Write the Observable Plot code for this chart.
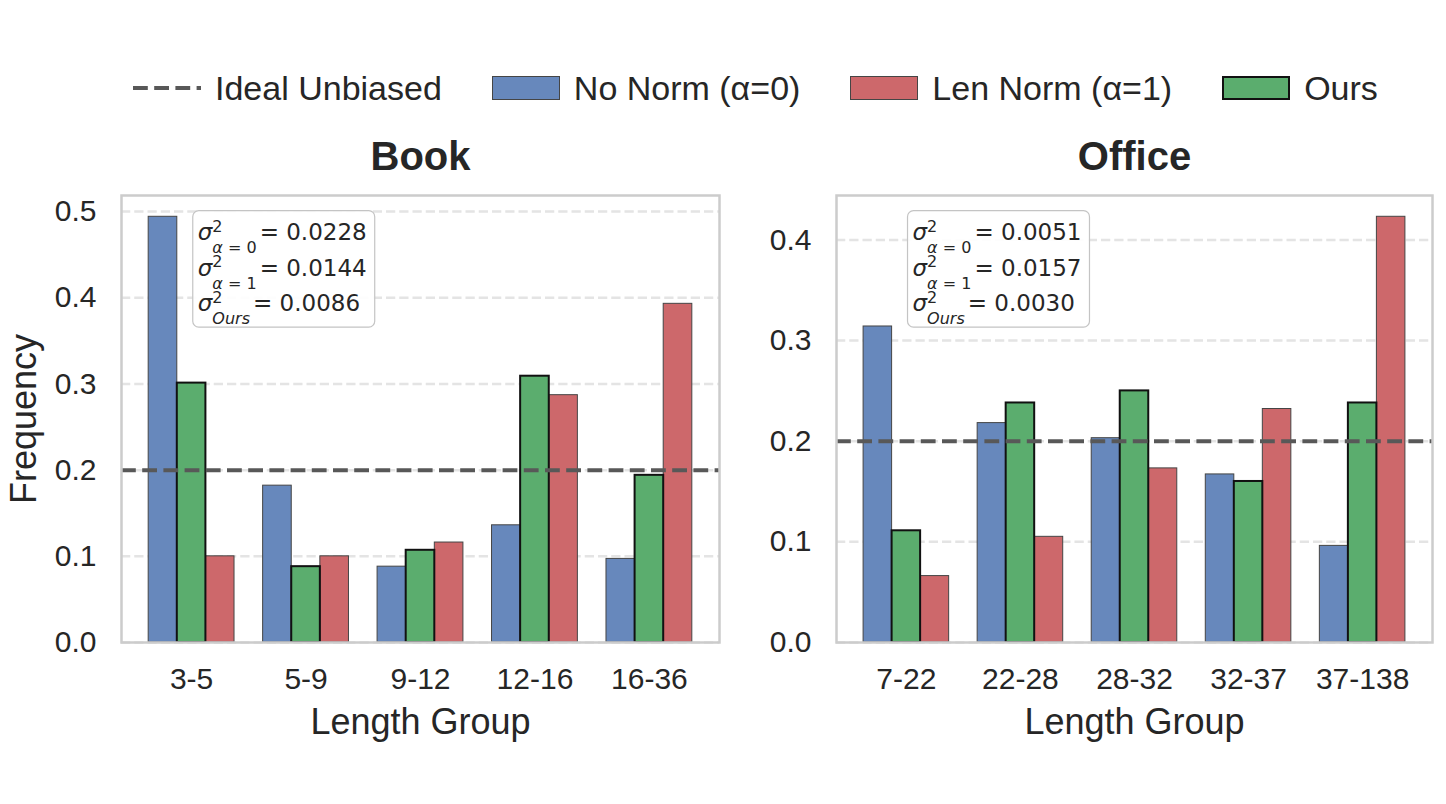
<!DOCTYPE html>
<html>
<head>
<meta charset="utf-8">
<script src="https://cdn.jsdelivr.net/npm/d3@7"></script>
<script src="https://cdn.jsdelivr.net/npm/@observablehq/plot@0.6"></script>
<style>
  html, body { margin: 0; background: #fff; }
  #figure { position: relative; width: 1446px; height: 804px; overflow: hidden;
            font-family: "Liberation Sans", Arial, sans-serif; color: #262626; }
  #figure svg.panel { position: absolute; top: 0; }
  #legend { position: absolute; left: 133px; top: 68px; height: 40px; display: flex;
            align-items: center; font-size: 34px; white-space: nowrap; z-index: 2; }
  .item { display: flex; align-items: center; }
  .item + .item { margin-left: 50px; }
  .key { width: 68px; height: 24px; box-sizing: border-box; margin-right: 14px; flex: none; }
</style>
</head>
<body>
<div id="figure"><div id="legend"></div></div>
<script>
// Length-bucket frequencies for each scoring variant
const bookGroups = ["3-5", "5-9", "9-12", "12-16", "16-36"];
const bookNoNorm = [0.494, 0.182, 0.088, 0.136, 0.097];
const bookOurs = [0.301, 0.088, 0.107, 0.309, 0.194];
const bookLenNorm = [0.100, 0.100, 0.116, 0.287, 0.393];
const bookVariance = ["0.0228", "0.0144", "0.0086"];

const officeGroups = ["7-22", "22-28", "28-32", "32-37", "37-138"];
const officeNoNorm = [0.314, 0.218, 0.203, 0.167, 0.096];
const officeOurs = [0.111, 0.238, 0.250, 0.160, 0.238];
const officeLenNorm = [0.066, 0.105, 0.173, 0.232, 0.423];
const officeVariance = ["0.0051", "0.0157", "0.0030"];

const bookTicks = [0, 0.1, 0.2, 0.3, 0.4, 0.5];
const officeTicks = [0, 0.1, 0.2, 0.3, 0.4];
const idealLevel = 0.2;

const series = {
  noNorm: {label: "No Norm (α=0)", fill: "#6788bc", stroke: "#454545", strokeWidth: 1, offset: -0.25},
  lenNorm: {label: "Len Norm (α=1)", fill: "#cd686b", stroke: "#454545", strokeWidth: 1, offset: 0.25},
  ours: {label: "Ours", fill: "#5bad6e", stroke: "#111111", strokeWidth: 2, offset: 0}
};
const drawOrder = ["noNorm", "lenNorm", "ours"];
const barWidth = 0.25;
const idealStyle = {stroke: "#585858", strokeWidth: 4, strokeDasharray: "14.8,6.4"};

const H = 804, TOP = 195, BOTTOM = 162;

// Rounded annotation box listing the per-variant variances
function varianceBox(variance, frame) {
  const subs = [["α", "\u00a0=\u00a00"], ["α", "\u00a0=\u00a01"], ["Ours", ""]];
  const main = 23, script = 16;
  return () => {
    const bx = frame.left + 0.12 * frame.width;
    const by = frame.top + 0.035 * frame.height;
    const g = d3.create("svg:g").attr("class", "variance-box");
    g.append("rect")
      .attr("x", bx).attr("y", by).attr("width", 180).attr("height", 116.5)
      .attr("rx", 6).attr("fill", "white").attr("fill-opacity", 0.92)
      .attr("stroke", "#c4c4c4").attr("stroke-width", 1.2);
    const lines = g.append("g").attr("class", "lines").attr("text-anchor", "start")
      .attr("font-family", "'DejaVu Sans', sans-serif").attr("font-size", main).attr("fill", "#262626");
    variance.forEach((v, k) => {
      const t = lines.append("text").attr("x", bx + 5).attr("y", by + 29.5 + 35.5 * k);
      t.append("tspan").attr("font-style", "italic").text("σ");
      t.append("tspan").attr("font-size", script).attr("dy", -8.5).text("2");
      t.append("tspan").attr("font-size", script).attr("font-style", "italic")
        .attr("dx", -0.636 * script).attr("dy", 21.5).text(subs[k][0]);
      if (subs[k][1]) t.append("tspan").attr("font-size", script).text(subs[k][1]);
      t.append("tspan").attr("dx", 3).attr("dy", -13).text("=\u00a0" + v);
    });
    return g.node();
  };
}

function panel({title, groups, values, variance, yTicks, left, width, marginLeft, marginRight, yLabel}) {
  const n = groups.length;
  const rows = drawOrder.flatMap(key => values[key].map((value, i) => ({key, i, value})));
  const lo = -1.5 * barWidth, hi = n - 1 + 1.5 * barWidth;
  const pad = 0.05 * (hi - lo);
  const ymax = d3.max(rows, d => d.value) * 1.05;
  const frame = {left: marginLeft, top: TOP, width: width - marginLeft - marginRight, height: H - TOP - BOTTOM};

  const svg = Plot.plot({
    width, height: H, marginTop: TOP, marginBottom: BOTTOM, marginLeft, marginRight,
    style: {fontFamily: '"Liberation Sans", Arial, sans-serif', fontSize: "30px", color: "#262626",
            background: "transparent", overflow: "visible"},
    x: {type: "linear", domain: [lo - pad, hi + pad], ticks: d3.range(n), tickFormat: i => groups[i],
        tickSize: 0, tickPadding: 25, label: null},
    y: {domain: [0, ymax], ticks: yTicks, tickFormat: d3.format(".1f"), tickSize: 0, tickPadding: 25, label: null},
    marks: [
      Plot.gridY(yTicks, {stroke: "#e4e4e4", strokeOpacity: 1, strokeWidth: 2.5, strokeDasharray: "9.25,4"}),
      ...drawOrder.map(key => Plot.rect(rows.filter(d => d.key === key), {
        x1: d => d.i + series[key].offset - barWidth / 2,
        x2: d => d.i + series[key].offset + barWidth / 2,
        y1: 0, y2: "value",
        fill: series[key].fill, stroke: series[key].stroke, strokeWidth: series[key].strokeWidth
      })),
      Plot.ruleY([idealLevel], idealStyle),
      Plot.frame({stroke: "#cccccc", strokeWidth: 2.5}),
      Plot.text([title], {text: d => d, frameAnchor: "top", lineAnchor: "bottom", dy: -26, fontSize: 40, fontWeight: "bold"}),
      Plot.text(["Length Group"], {text: d => d, frameAnchor: "bottom", lineAnchor: "bottom", dy: 91, fontSize: 36}),
      yLabel ? Plot.text([yLabel], {text: d => d, frameAnchor: "left", textAnchor: "middle", lineAnchor: "bottom",
                                     rotate: -90, dx: -86, fontSize: 36}) : null,
      varianceBox(variance, frame)
    ]
  });
  svg.classList.add("panel");
  svg.style.left = left + "px";
  document.getElementById("figure").appendChild(svg);

  // size the annotation box to its text
  svg.querySelectorAll("g.variance-box").forEach(g => {
    const rect = g.querySelector("rect");
    const bb = g.querySelector("g.lines").getBBox();
    rect.setAttribute("width", bb.x + bb.width + 8 - +rect.getAttribute("x"));
  });
}

panel({
  title: "Book", groups: bookGroups, variance: bookVariance, yTicks: bookTicks, yLabel: "Frequency",
  values: {noNorm: bookNoNorm, ours: bookOurs, lenNorm: bookLenNorm},
  left: 0, width: 725, marginLeft: 121, marginRight: 6
});
panel({
  title: "Office", groups: officeGroups, variance: officeVariance, yTicks: officeTicks,
  values: {noNorm: officeNoNorm, ours: officeOurs, lenNorm: officeLenNorm},
  left: 725, width: 721, marginLeft: 111, marginRight: 14
});

// Legend: dashed reference line followed by the three bar series
const legend = d3.select("#legend");
const lineItem = legend.append("div").attr("class", "item");
const lineKey = lineItem.append("svg").attr("class", "key").attr("width", 68).attr("height", 24);
lineKey.append("line").attr("x1", 0).attr("x2", 68).attr("y1", 12).attr("y2", 12)
  .attr("stroke", idealStyle.stroke).attr("stroke-width", idealStyle.strokeWidth)
  .attr("stroke-dasharray", idealStyle.strokeDasharray);
lineItem.append("span").text("Ideal Unbiased");
["noNorm", "lenNorm", "ours"].forEach(key => {
  const s = series[key];
  const item = legend.append("div").attr("class", "item");
  item.append("div").attr("class", "key")
    .style("background", s.fill)
    .style("border", `${s.strokeWidth}px solid ${s.stroke}`);
  item.append("span").text(s.label);
});
</script>
</body>
</html>
